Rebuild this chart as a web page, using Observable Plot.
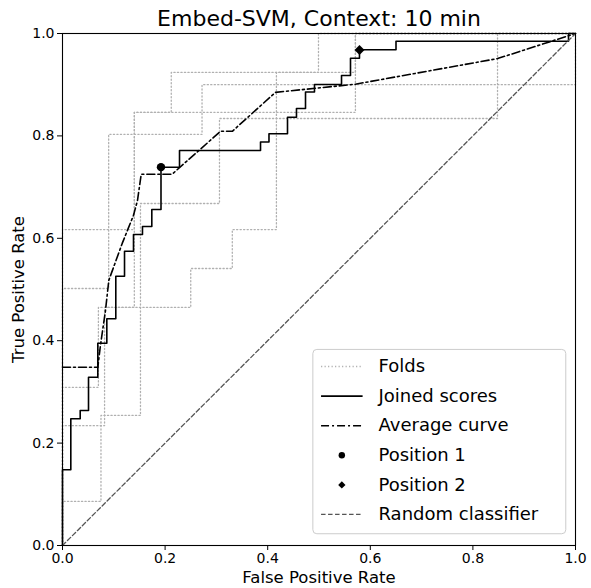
<!DOCTYPE html>
<html><head><meta charset="utf-8">
<script src="https://cdn.jsdelivr.net/npm/d3@7"></script>
<script src="https://cdn.jsdelivr.net/npm/@observablehq/plot@0.6"></script>
<style>body{margin:0;background:#fff;} #chart svg{display:block}</style>
</head><body><div id="chart"></div>
<script>
const titleText = "Embed-SVM, Context: 10 min";
const xLabel = "False Positive Rate";
const yLabel = "True Positive Rate";
const tickValues = [0, 0.2, 0.4, 0.6, 0.8, 1.0];

// Fold ROC vertices (step curves, vertical then horizontal)
const fold1 = [[0,0],[0.075,0.086],[0.152,0.254],[0.306,0.668],[0.848,0.834],[1,1]];
const fold2 = [[0,0],[0.082,0.234],[0.25,0.465],[0.331,0.541],[0.417,0.617],[0.499,0.924],[1,1]];
const fold3 = [[0,0],[0.07,0.309],[0.14,0.465],[0.571,0.846],[1,1]];
const fold4 = [[0,0],[0.09,0.502],[0.272,0.803],[1,0.9],[1,1]];
const fold5 = [[0,0],[0.14,0.617],[0.212,0.846],[0.571,0.924],[1,1]];

// Joined scores ROC vertices
const joined = [[0,0],[0.0162,0.148],[0.0345,0.2475],[0.0507,0.2637],[0.0688,0.3287],[0.0864,0.3951],
  [0.1039,0.4428],[0.1209,0.526],[0.1384,0.5748],[0.1559,0.6074],[0.1741,0.623],[0.192,0.6563],
  [0.2281,0.7389],[0.386,0.7715],[0.4025,0.7881],[0.4386,0.8041],[0.4561,0.8365],[0.4737,0.8535],
  [0.4912,0.8857],[0.5439,0.9004],[0.5614,0.918],[0.5789,0.9518],[0.6501,0.9682],[0.9864,0.985],[1,1]];

// Average curve
const average = [[0,0.348],[0.0688,0.348],[0.074,0.391],[0.0838,0.459],[0.0903,0.518],[0.1164,0.59],
  [0.1384,0.645],[0.1462,0.674],[0.1534,0.725],[0.2135,0.725],[0.308,0.809],[0.331,0.809],
  [0.415,0.885],[0.571,0.901],[0.848,0.951],[1,1]];

const position1 = [[0.192,0.739]];
const position2 = [[0.579,0.968]];
const randomLine = [[0,0],[1,1]];

const legendLabels = ["Folds","Joined scores","Average curve","Position 1","Position 2","Random classifier"];

// styles
const foldStyle = {stroke:"#b0b0b0", strokeWidth:1.3, strokeDasharray:"1.2,2.3"};
const joinedStyle = {stroke:"black", strokeWidth:1.6};
const avgStyle = {stroke:"black", strokeWidth:1.6, strokeDasharray:"8,3,2,3"};
const randStyle = {stroke:"#555", strokeWidth:1.3, strokeDasharray:"4.5,2.5"};

const foldData = [fold1, fold2, fold3, fold4, fold5].flatMap((f, i) => f.map(([x, y]) => ({x, y, fold: i})));

// legend layout (axes fraction)
const lg = {x1:0.489, x2:0.982, y1:0.022, y2:0.382, top:0.3496, step:0.0578, h1:0.504, h2:0.585, tx:0.616};
const rows = legendLabels.map((label, i) => ({label, i, y: lg.top - i * lg.step}));
const hm = (lg.h1 + lg.h2) / 2;

const chart = Plot.plot({
  width: 591, height: 588,
  marginLeft: 62, marginRight: 16, marginTop: 33, marginBottom: 43,
  x: {domain: [0, 1]},
  y: {domain: [0, 1]},
  style: {fontFamily: "DejaVu Sans", fontSize: "14px", color: "black", background: "white"},
  marks: [
    Plot.line(foldData, {x: "x", y: "y", z: "fold", curve: "step-before", ...foldStyle}),
    Plot.line(joined, {x: d => d[0], y: d => d[1], curve: "step-before", ...joinedStyle}),
    Plot.line(average, {x: d => d[0], y: d => d[1], ...avgStyle}),
    Plot.dot(position1, {x: d => d[0], y: d => d[1], r: 4.2, fill: "black", stroke: "none"}),
    Plot.dot(position2, {x: d => d[0], y: d => d[1], r: 4.5, symbol: "diamond2", fill: "black", stroke: "none"}),
    Plot.line(randomLine, {x: d => d[0], y: d => d[1], ...randStyle}),
    Plot.frame({stroke: "black", strokeWidth: 1.1}),
    Plot.axisX({ticks: tickValues, tickFormat: d => d.toFixed(1), tickSize: 5, tickPadding: 3, fontSize: 14, label: null}),
    Plot.axisY({ticks: tickValues, tickFormat: d => d.toFixed(1), tickSize: 5, tickPadding: 3, fontSize: 14, label: null}),
    Plot.text([titleText], {text: d => d, frameAnchor: "top", lineAnchor: "middle", dy: -15, fontSize: 22}),
    Plot.text([xLabel], {text: d => d, frameAnchor: "bottom", lineAnchor: "middle", dy: 32, fontSize: 16.5}),
    Plot.text([yLabel], {text: d => d, frameAnchor: "left", lineAnchor: "middle", textAnchor: "middle", dx: -44, rotate: -90, fontSize: 16.5}),
    // legend
    Plot.rect([0], {x1: lg.x1, x2: lg.x2, y1: lg.y1, y2: lg.y2, fill: "white", fillOpacity: 0.8, stroke: "#cccccc", strokeWidth: 1, rx: 4}),
    Plot.link([rows[0]], {x1: lg.h1, x2: lg.h2, y1: "y", y2: "y", ...foldStyle}),
    Plot.link([rows[1]], {x1: lg.h1, x2: lg.h2, y1: "y", y2: "y", ...joinedStyle}),
    Plot.link([rows[2]], {x1: lg.h1, x2: lg.h2, y1: "y", y2: "y", ...avgStyle}),
    Plot.dot([rows[3]], {x: hm, y: "y", r: 3.2, fill: "black", stroke: "none"}),
    Plot.dot([rows[4]], {x: hm, y: "y", r: 3.3, symbol: "diamond2", fill: "black", stroke: "none"}),
    Plot.link([rows[5]], {x1: lg.h1, x2: lg.h2, y1: "y", y2: "y", ...randStyle}),
    Plot.text(rows, {x: lg.tx, y: "y", text: "label", textAnchor: "start", fontSize: 18})
  ]
});
document.getElementById("chart").append(chart);
</script>
</body></html>
